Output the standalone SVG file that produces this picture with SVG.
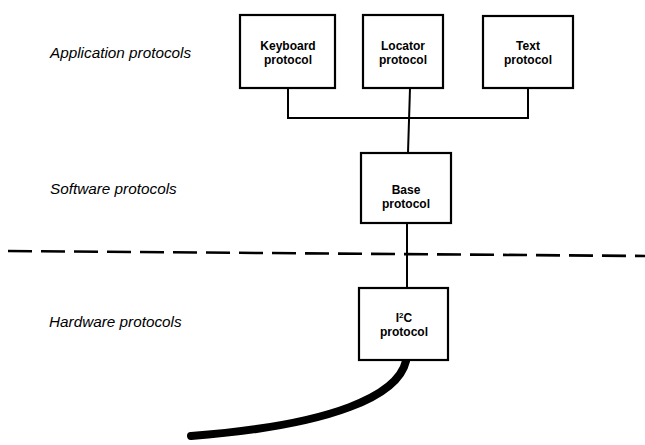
<svg xmlns="http://www.w3.org/2000/svg" width="645" height="445" viewBox="0 0 645 445">
<style>
.box{fill:#fff;stroke:#000;stroke-width:2.2}
.bl{font-family:"Liberation Sans",Arial,sans-serif;font-weight:bold;font-size:12px;text-anchor:middle;fill:#000}
.lay{font-family:"Liberation Sans",Arial,sans-serif;font-style:italic;font-size:15.3px;fill:#000}
.ln{fill:none;stroke:#000;stroke-width:2}
</style>
<rect width="645" height="445" fill="#fff"/>
<text class="lay" x="50" y="58">Application protocols</text>
<text class="lay" x="50" y="194">Software protocols</text>
<text class="lay" x="49" y="327">Hardware protocols</text>
<g id="connectors">
<polyline class="ln" points="288,88 288,118 528,118 528,88"/>
<line class="ln" x1="410" y1="88" x2="408" y2="153"/>
<line class="ln" x1="407" y1="223" x2="407" y2="288"/>
<line x1="8" y1="251" x2="645" y2="256" stroke="#000" stroke-width="2.6" stroke-dasharray="24,9"/>
<path d="M406 361 C398 395,335 425,191 436" fill="none" stroke="#000" stroke-width="8" stroke-linecap="round"/>
</g>
<g id="keyboard">
<rect class="box" x="240" y="15" width="95" height="73"/>
<text class="bl" x="288" y="50">Keyboard</text>
<text class="bl" x="288" y="64">protocol</text>
</g>
<g id="locator">
<rect class="box" x="363" y="15" width="80" height="73"/>
<text class="bl" x="403" y="50">Locator</text>
<text class="bl" x="403" y="64">protocol</text>
</g>
<g id="text">
<rect class="box" x="483" y="16" width="90" height="72"/>
<text class="bl" x="528" y="50">Text</text>
<text class="bl" x="528" y="64">protocol</text>
</g>
<g id="base">
<rect class="box" x="361" y="153" width="90" height="70"/>
<text class="bl" x="406" y="194">Base</text>
<text class="bl" x="406" y="208">protocol</text>
</g>
<g id="i2c">
<rect class="box" x="359" y="288" width="89" height="72"/>
<text class="bl" x="404" y="322">I<tspan font-size="8" dy="-4">2</tspan><tspan dy="4">C</tspan></text>
<text class="bl" x="404" y="336">protocol</text>
</g>
</svg>
